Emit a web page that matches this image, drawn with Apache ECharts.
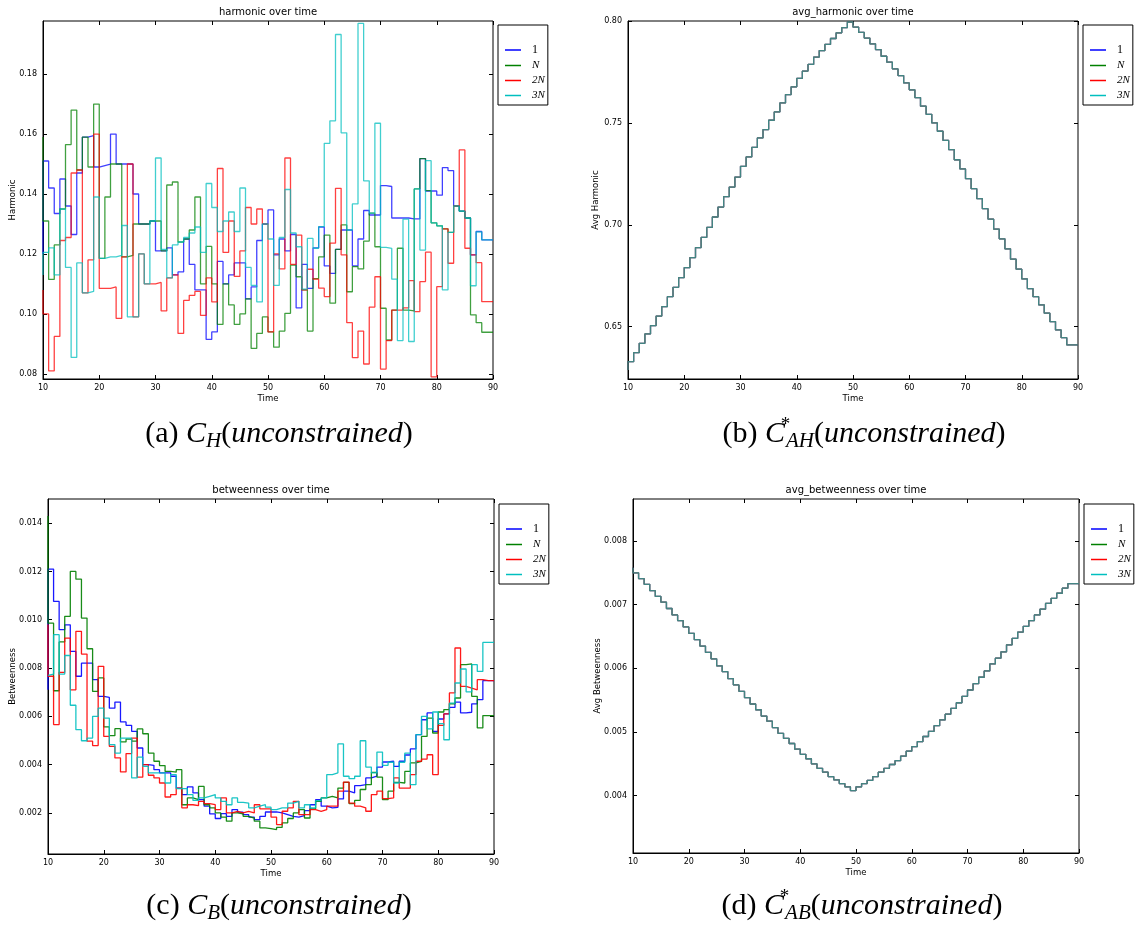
<!DOCTYPE html>
<html><head><meta charset="utf-8">
<script src="https://cdn.jsdelivr.net/npm/echarts@6/dist/echarts.min.js"></script>
<style>html,body{margin:0;padding:0;background:#fff}#c{width:1136px;height:926px}</style>
</head><body><div id="c"></div>
<script>
const times = [10,11,12,13,14,15,16,17,18,19,20,21,22,23,24,25,26,27,28,29,30,31,32,33,34,35,36,37,38,39,40,41,42,43,44,45,46,47,48,49,50,51,52,53,54,55,56,57,58,59,60,61,62,63,64,65,66,67,68,69,70,71,72,73,74,75,76,77,78,79,80,81,82,83,84,85,86,87,88,89,90];
const seriesNames = ['1','N','2N','3N'];
const seriesColors = ['#0000ff','#008000','#ff0000','#00bfbf'];

// (a) harmonic over time
const harmonic1 = [0.120,
0.151,0.142,0.1335,0.145,0.136,0.1265,0.147,0.159,0.1595,0.149,
0.1495,0.150,0.160,0.150,0.150,0.150,0.140,0.130,0.130,0.131,
0.121,0.121,0.122,0.113,0.114,0.125,0.1165,0.108,0.108,0.0915,
0.094,0.1175,0.110,0.113,0.117,0.117,0.105,0.109,0.1245,0.130,
0.1347,0.1197,0.125,0.121,0.1265,0.102,0.1165,0.1085,0.122,0.129,
0.116,0.1135,0.1215,0.128,0.128,0.116,0.125,0.1345,0.133,0.133,
0.1428,0.1425,0.132,0.132,0.132,0.1317,0.1317,0.1518,0.141,0.141,
0.1396,0.1488,0.1478,0.136,0.1343,0.132,0.1197,0.1275,0.1247,0.1247];
const harmonicN = [0.159,
0.131,0.1115,0.123,0.135,0.1565,0.168,0.148,0.159,0.149,0.170,
0.1185,0.139,0.150,0.150,0.119,0.1195,0.130,0.130,0.130,0.131,
0.131,0.121,0.143,0.144,0.124,0.125,0.128,0.139,0.110,0.1225,
0.110,0.0965,0.110,0.103,0.0965,0.100,0.105,0.0885,0.0935,0.099,
0.094,0.0889,0.0943,0.1002,0.1163,0.1124,0.108,0.0943,0.1118,0.119,
0.1263,0.1036,0.1215,0.1297,0.1074,0.1158,0.115,0.1243,0.1336,0.1224,
0.1019,0.0913,0.1013,0.1219,0.1013,0.101,0.1417,0.1518,0.1411,0.1304,
0.1294,0.1284,0.1272,0.136,0.1343,0.132,0.0997,0.0971,0.0939,0.0939];
const harmonic2N = [0.108,
0.100,0.081,0.0925,0.1245,0.1255,0.147,0.148,0.107,0.118,0.160,
0.1085,0.1085,0.109,0.0985,0.119,0.150,0.099,0.120,0.110,0.110,
0.1105,0.101,0.112,0.113,0.0935,0.1045,0.1062,0.1075,0.0995,0.112,
0.104,0.1485,0.1205,0.131,0.1125,0.121,0.1355,0.130,0.135,0.130,
0.094,0.120,0.115,0.152,0.1165,0.1263,0.108,0.1149,0.1116,0.1086,
0.1058,0.1236,0.1419,0.1197,0.0971,0.0854,0.0943,0.0833,0.1023,0.1124,
0.0816,0.0911,0.1013,0.1013,0.102,0.1111,0.1008,0.1108,0.1206,0.079,
0.1091,0.1284,0.1169,0.136,0.1547,0.1219,0.1197,0.1171,0.1041,0.1041];
const harmonic3N = [0.113,
0.1205,0.122,0.113,0.135,0.1155,0.0855,0.117,0.107,0.1075,0.139,
0.1185,0.119,0.119,0.1195,0.1295,0.099,0.099,0.120,0.110,0.131,
0.152,0.1215,0.112,0.123,0.124,0.1255,0.127,0.129,0.1205,0.1435,
0.1355,0.1275,0.131,0.134,0.1275,0.142,0.1155,0.1095,0.104,0.130,
0.125,0.1095,0.1255,0.1415,0.127,0.1224,0.1083,0.1252,0.1219,0.1291,
0.1569,0.1644,0.1932,0.1604,0.128,0.1367,0.1969,0.1444,0.1336,0.1636,
0.1222,0.1219,0.1116,0.0911,0.1316,0.0908,0.1417,0.1213,0.1511,0.1304,
0.1294,0.108,0.1272,0.136,0.1343,0.132,0.1094,0.1274,0.1247,0.1247];

// (b) avg_harmonic over time (all four series coincide)
const avgHarmonic = [0.6287,
0.6328,0.6372,0.6418,0.6464,0.6505,0.6552,0.6598,0.6647,0.6693,0.6741,
0.6790,0.6839,0.6888,0.6938,0.6987,0.7038,0.7087,0.7138,0.7185,0.7234,
0.7287,0.7333,0.7380,0.7426,0.7467,0.7513,0.7554,0.7598,0.7639,0.7677,
0.7718,0.7754,0.7787,0.7823,0.7855,0.7885,0.7914,0.7942,0.7967,0.7995,
0.7970,0.7944,0.7916,0.7888,0.7860,0.7827,0.7798,0.7765,0.7732,0.7696,
0.7662,0.7624,0.7582,0.7542,0.7500,0.7459,0.7414,0.7369,0.7319,0.7274,
0.7226,0.7177,0.7128,0.7079,0.7028,0.6979,0.6931,0.6882,0.6831,0.6782,
0.6734,0.6687,0.6647,0.6607,0.6566,0.6525,0.6484,0.6446,0.6410,0.6410];

// (c) betweenness over time
const betweenness1 = [0.0071,
0.0121,0.01076,0.00959,0.00979,0.00869,0.00766,0.0082,0.0082,0.00752,0.00683,
0.00679,0.00634,0.00659,0.00577,0.00563,0.00538,0.00469,0.0040,0.00397,0.00379,
0.00366,0.00366,0.00352,0.00303,0.00276,0.00308,0.00283,0.00255,0.00228,0.00196,
0.00177,0.00197,0.00186,0.00214,0.00203,0.00193,0.00183,0.00172,0.00186,0.00204,
0.00204,0.0020,0.00193,0.00186,0.00183,0.00189,0.0021,0.00234,0.00255,0.00228,
0.00221,0.00223,0.00258,0.0029,0.00283,0.00313,0.00317,0.00345,0.00352,0.0039,
0.00411,0.00414,0.00393,0.00414,0.0044,0.00465,0.00524,0.00586,0.00614,0.00538,
0.00589,0.0061,0.00637,0.00659,0.00614,0.00617,0.00652,0.00669,0.00748,0.00748];
const betweennessN = [0.0143,
0.00986,0.00706,0.00908,0.01014,0.0120,0.01168,0.01007,0.0088,0.00703,0.00759,
0.00556,0.0052,0.00549,0.00494,0.00506,0.00497,0.00548,0.00528,0.00448,0.00414,
0.00396,0.00372,0.00369,0.00379,0.00234,0.00262,0.00255,0.0031,0.00234,0.00221,
0.0020,0.00183,0.00166,0.0020,0.00196,0.00186,0.00179,0.00166,0.00138,0.00135,
0.00131,0.0014,0.00159,0.00177,0.0020,0.00214,0.00179,0.00217,0.00248,0.00262,
0.00269,0.00262,0.00303,0.00327,0.00239,0.00252,0.00297,0.00317,0.00368,0.00348,
0.00255,0.0029,0.00327,0.00324,0.00372,0.00407,0.00414,0.00517,0.00593,0.00531,
0.00618,0.00628,0.00652,0.00676,0.00814,0.00817,0.00683,0.00552,0.00603,0.00603];
const betweenness2N = [0.0098,
0.00766,0.00566,0.00782,0.00924,0.0071,0.00952,0.00858,0.00497,0.00479,0.00807,
0.00517,0.00476,0.00428,0.0037,0.00446,0.0051,0.00348,0.0040,0.00356,0.00345,
0.00324,0.00266,0.00276,0.00303,0.00221,0.00234,0.0023,0.00248,0.00239,0.00234,
0.00214,0.00262,0.0020,0.00207,0.0020,0.00207,0.0020,0.00234,0.00217,0.00217,
0.00183,0.00152,0.00207,0.00221,0.00248,0.00193,0.00193,0.00214,0.00207,0.00214,
0.00228,0.00228,0.0029,0.00328,0.00241,0.00228,0.00221,0.00207,0.00276,0.0029,
0.00259,0.00262,0.00345,0.00303,0.00303,0.00359,0.00414,0.00423,0.00441,0.00359,
0.00563,0.0061,0.00697,0.00883,0.00724,0.00717,0.0071,0.00752,0.00748,0.00748];
const betweenness3N = [0.0077,
0.00775,0.00938,0.00775,0.00852,0.00646,0.00545,0.00499,0.0051,0.0060,0.00634,
0.00593,0.00483,0.00448,0.0051,0.0051,0.00345,0.00431,0.00393,0.00366,0.00366,
0.00366,0.00324,0.00359,0.00301,0.00301,0.00276,0.00252,0.00262,0.00269,0.00276,
0.00262,0.00248,0.00234,0.00262,0.00244,0.00241,0.00221,0.00228,0.00234,0.00224,
0.00214,0.00221,0.00221,0.00241,0.00248,0.00221,0.00234,0.00221,0.00251,0.00262,
0.00359,0.00366,0.00486,0.00352,0.00342,0.00352,0.00499,0.0039,0.00366,0.00452,
0.00397,0.0041,0.00324,0.0041,0.00448,0.00317,0.00524,0.006,0.00548,0.00618,
0.0057,0.00503,0.00655,0.00738,0.00796,0.00701,0.00814,0.00786,0.00906,0.00906];

// (d) avg_betweenness over time (all four series coincide)
const avgBetweenness = [0.00758,
0.00750,0.00741,0.00732,0.00722,0.00713,0.00704,0.00694,0.00684,0.00675,0.00665,
0.00655,0.00645,0.00635,0.00625,0.00615,0.00604,0.00595,0.00584,0.00574,0.00564,
0.00554,0.00544,0.00535,0.00525,0.00517,0.00507,0.00498,0.00490,0.00482,0.00473,
0.00465,0.00458,0.00450,0.00443,0.00437,0.00430,0.00425,0.00419,0.00414,0.00408,
0.00414,0.00419,0.00424,0.00430,0.00437,0.00443,0.00449,0.00455,0.00462,0.00470,
0.00477,0.00485,0.00493,0.00501,0.00510,0.00519,0.00528,0.00537,0.00546,0.00556,
0.00566,0.00576,0.00586,0.00596,0.00607,0.00616,0.00626,0.00637,0.00647,0.00657,
0.00666,0.00675,0.00684,0.00693,0.00702,0.00710,0.00718,0.00726,0.00733,0.00733];

const xTicks = [10,20,30,40,50,60,70,80,90];
const harmonicTicks = [0.08,0.10,0.12,0.14,0.16,0.18];
const avgHarmonicTicks = [0.65,0.70,0.75,0.80];
const betweennessTicks = [0.002,0.004,0.006,0.008,0.010,0.012,0.014];
const avgBetweennessTicks = [0.004,0.005,0.006,0.007,0.008];

const panels = [
  {grid:{left:43, top:21, width:450, height:358}, min:0.0783, max:0.1977, ticks:harmonicTicks, digits:2,
   yName:'Harmonic', nameGap:26, title:'harmonic over time', data:[harmonic1,harmonicN,harmonic2N,harmonic3N], opacity:0.75,
   legend:{left:498, top:25}, caption:'{n|(a) }{i|C}{s|H}{n|(}{i|unconstrained}{n|)}', capX:279, capY:434},
  {grid:{left:628, top:21, width:450, height:358}, min:0.6243, max:0.80, ticks:avgHarmonicTicks, digits:2,
   yName:'Avg Harmonic', nameGap:28, title:'avg_harmonic over time', data:[avgHarmonic,avgHarmonic,avgHarmonic,avgHarmonic], opacity:0.6,
   legend:{left:1083, top:25}, caption:'{n|(b) }{i|C}{sp|*}{s|AH}{n|(}{i|unconstrained}{n|)}', capX:864, capY:434},
  {grid:{left:48, top:499, width:446, height:355}, min:0.0003, max:0.015, ticks:betweennessTicks, digits:3,
   yName:'Betweenness', nameGap:31, title:'betweenness over time', data:[betweenness1,betweennessN,betweenness2N,betweenness3N], opacity:0.9,
   legend:{left:499, top:504}, caption:'{n|(c) }{i|C}{s|B}{n|(}{i|unconstrained}{n|)}', capX:279, capY:906},
  {grid:{left:633, top:499, width:446, height:354}, min:0.0031, max:0.00866, ticks:avgBetweennessTicks, digits:3,
   yName:'Avg Betweenness', nameGap:31, title:'avg_betweenness over time', data:[avgBetweenness,avgBetweenness,avgBetweenness,avgBetweenness], opacity:0.6,
   legend:{left:1084, top:504}, caption:'{n|(d) }{i|C}{sp|*}{s|AB}{n|(}{i|unconstrained}{n|)}', capX:862, capY:906}
];

const sans = 'DejaVu Sans';
const serif = 'Liberation Serif';
const grids = [], xAxes = [], yAxes = [], series = [], legends = [], graphics = [];
const tickStyle = {inside:true, length:4, lineStyle:{color:'#000', width:1}};

panels.forEach((p, gi) => {
  grids.push(Object.assign({show:true, borderColor:'#000', borderWidth:1, backgroundColor:'#fff'}, p.grid));
  xAxes.push({type:'value', gridIndex:gi, min:10, max:90, interval:10, position:'bottom',
    axisLine:{show:true, onZero:false, lineStyle:{color:'#000', width:1}}, axisTick:tickStyle,
    axisLabel:{color:'#000', fontSize:8, fontFamily:sans, margin:5, customValues:xTicks},
    splitLine:{show:false}, name:'Time', nameLocation:'middle', nameGap:15, nameMoveOverlap:false,
    nameTextStyle:{color:'#000', fontSize:8.5, fontFamily:sans}});
  yAxes.push({type:'value', gridIndex:gi, min:p.min, max:p.max, position:'left',
    axisLine:{show:true, onZero:false, lineStyle:{color:'#000', width:1}},
    axisTick:Object.assign({customValues:p.ticks}, tickStyle),
    axisLabel:{color:'#000', fontSize:8, fontFamily:sans, margin:6, customValues:p.ticks,
      formatter:(v)=>Number(v).toFixed(p.digits)},
    splitLine:{show:false}, name:p.yName, nameLocation:'middle', nameGap:p.nameGap, nameMoveOverlap:false,
    nameTextStyle:{color:'#000', fontSize:8.5, fontFamily:sans}});
  p.data.forEach((vals, si) => {
    series.push({type:'line', name:seriesNames[si], xAxisIndex:gi, yAxisIndex:gi,
      data:times.map((t, i) => [t, vals[i]]), step:'start', symbol:'none', showSymbol:false,
      lineStyle:{color:seriesColors[si], width:1.3, opacity:p.opacity},
      itemStyle:{color:seriesColors[si]}, emphasis:{disabled:true}, animation:false, z:2+si});
  });
  legends.push({data:seriesNames, orient:'vertical', left:p.legend.left, top:p.legend.top,
    padding:[19,3,4,7], itemWidth:16, itemHeight:14, itemGap:4,
    icon:'path://M0,0 L16,0 L16,1.5 L0,1.5 Z', symbolKeepAspect:true,
    borderColor:'#000', borderWidth:1, backgroundColor:'#fff', borderRadius:0,
    selectedMode:false,
    formatter:(n)=> n==='1' ? '{u|1}' : '{i|'+n+'}',
    textStyle:{color:'#000', fontSize:11, fontFamily:serif,
      rich:{u:{fontSize:12, fontFamily:serif, padding:[0,0,0,6]}, i:{fontSize:11, fontStyle:'italic', fontFamily:serif, padding:[0,0,0,6]}}}});
  const cx = p.grid.left + p.grid.width/2;
  graphics.push({type:'text', x:cx, y:p.grid.top - 9, style:{text:p.title, fill:'#000', font:'10px "DejaVu Sans"', align:'center', verticalAlign:'middle'}});
  graphics.push({type:'text', x:p.legend.left + 26, y:p.legend.top + 9, style:{text:'η', fill:'#000', font:'italic 9px "Liberation Serif"', align:'center', verticalAlign:'middle'}});
  graphics.push({type:'text', x:p.capX, y:p.capY, style:{text:p.caption, fill:'#000', align:'center', verticalAlign:'middle',
    rich:{
      n:{fontSize:30, fontFamily:serif, lineHeight:36, fill:'#000'},
      i:{fontSize:30, fontFamily:serif, fontStyle:'italic', lineHeight:36, fill:'#000'},
      s:{fontSize:21, fontFamily:serif, fontStyle:'italic', lineHeight:19, verticalAlign:'bottom', fill:'#000'},
      sp:{fontSize:19, fontFamily:serif, lineHeight:24, verticalAlign:'top', width:1, fill:'#000'}
    }}});
});

// top/right frame ticks
panels.forEach((p, gi) => {
  xAxes.push({type:'value', gridIndex:gi, min:10, max:90, interval:10, position:'top',
    axisLine:{show:false}, axisTick:tickStyle, axisLabel:{show:false}, splitLine:{show:false}});
  yAxes.push({type:'value', gridIndex:gi, min:p.min, max:p.max, position:'right',
    axisLine:{show:false}, axisTick:Object.assign({customValues:p.ticks}, tickStyle),
    axisLabel:{show:false, customValues:p.ticks}, splitLine:{show:false}});
});

const chart = echarts.init(document.getElementById('c'), null, {renderer:'canvas'});
chart.setOption({
  backgroundColor:'#fff', animation:false,
  grid:grids, xAxis:xAxes, yAxis:yAxes, series:series, legend:legends, graphic:graphics
});
</script></body></html>
